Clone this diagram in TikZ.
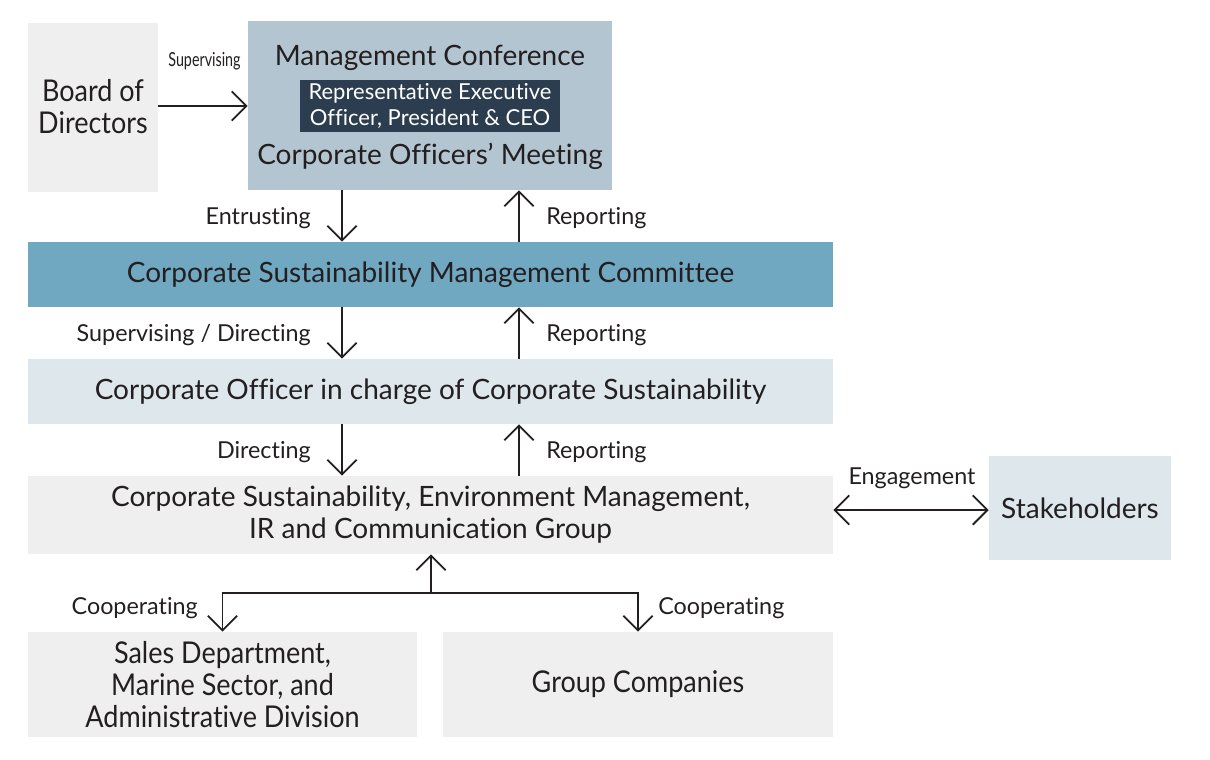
\documentclass[tikz,border=0pt]{standalone}
\usepackage{fontspec}
\setmainfont{Lato}[Ligatures=NoCommon]
\newfontfamily\condfont{Lato}[FakeStretch=0.9,Ligatures=NoCommon]
\newfontfamily\narrowfont{Lato}[FakeStretch=0.74,Ligatures=NoCommon]
\usetikzlibrary{arrows.meta}
\definecolor{txt}{HTML}{231F20}
\definecolor{grayb}{HTML}{EEEFEE}
\definecolor{mcblue}{HTML}{B3C5D0}
\definecolor{navy}{HTML}{2B3D4F}
\definecolor{teal}{HTML}{6FA8C0}
\definecolor{pale}{HTML}{DDE7EC}
\tikzset{
  box/.style={inner sep=0pt, align=center, text=txt, font=\fontsize{21}{24}\selectfont},
  lbl/.style={inner sep=0pt, text=txt, font=\fontsize{17.5}{20}\selectfont},
  arr/.style={draw=txt, line width=1.4pt, -{Straight Barb[length=11pt,width=22pt,line width=1.4pt]}},
  arrb/.style={draw=txt, line width=1.4pt, {Straight Barb[length=11pt,width=22pt,line width=1.4pt]}-{Straight Barb[length=11pt,width=22pt,line width=1.4pt]}}
}
\begin{document}
\begin{tikzpicture}[x=0.75pt,y=-0.75pt]
\useasboundingbox (0,0) rectangle (1210,760);
% boxes
\node[box, fill=grayb, minimum width=130*0.75pt, minimum height=169*0.75pt, font=\condfont\fontsize{22.5}{24}\selectfont] (board) at (93,107) {Board of\\Directors};
\node[box, fill=mcblue, minimum width=364*0.75pt, minimum height=169*0.75pt] (mc) at (430,105.5) {};
\node[box] (mctitle) at (430,58) {Management Conference};
\node[box, fill=navy, text=white, minimum width=260*0.75pt, minimum height=52*0.75pt, font=\fontsize{16.5}{19}\selectfont] (ceo) at (430,106) {Representative Executive\\Officer, President \& CEO};
\node[box] (com) at (430,156) {Corporate Officers’ Meeting};
\node[box, fill=teal, minimum width=805*0.75pt, minimum height=65*0.75pt] (csmc) at (430.5,274.5) {Corporate Sustainability Management Committee};
\node[box, fill=pale, minimum width=805*0.75pt, minimum height=65*0.75pt] (officer) at (430.5,391.5) {Corporate Officer in charge of Corporate Sustainability};
\node[box, fill=grayb, minimum width=805*0.75pt, minimum height=78*0.75pt] (group) at (430.5,515) {Corporate Sustainability, Environment Management,\\IR and Communication Group};
\node[box, fill=pale, minimum width=182*0.75pt, minimum height=104*0.75pt] (stake) at (1080,508) {Stakeholders};
\node[box, fill=grayb, minimum width=389*0.75pt, minimum height=105*0.75pt, font=\condfont\fontsize{22.5}{24}\selectfont] (sales) at (222.5,684.5) {Sales Department,\\Marine Sector, and\\Administrative Division};
\node[box, fill=grayb, minimum width=390*0.75pt, minimum height=105*0.75pt, font=\condfont\fontsize{22.5}{24}\selectfont] (gc) at (638,684.5) {Group Companies};
% column coordinates
\coordinate (dn) at (342,0);
\coordinate (up) at (519,0);
\coordinate (eng) at (0,510);
\coordinate (j) at (431,593);
% arrows
\draw[arr] (board.east |- ceo) -- (mc.west |- ceo);
\draw[arr] (mc.south -| dn) -- (csmc.north -| dn);
\draw[arr] (csmc.north -| up) -- (mc.south -| up);
\draw[arr] (csmc.south -| dn) -- (officer.north -| dn);
\draw[arr] (officer.north -| up) -- (csmc.south -| up);
\draw[arr] (officer.south -| dn) -- (group.north -| dn);
\draw[arr] (group.north -| up) -- (officer.south -| up);
\draw[arrb] (group.east |- eng) -- (stake.west |- eng);
\draw[arr] (j) -- (group.south -| j);
\draw[arrb] (sales.north) -- (sales.north |- j) -- (gc.north |- j) -- (gc.north);
% labels
\node[lbl, font=\narrowfont\fontsize{14.5}{16}\selectfont] (lsup) at (204.5,61) {Supervising};
\node[lbl, anchor=east] (l1) at (311,218) {Entrusting};
\node[lbl, anchor=west] (r1) at (546,218) {Reporting};
\node[lbl, anchor=east] (l2) at (311,335) {Supervising / Directing};
\node[lbl, anchor=west] (r2) at (546,335) {Reporting};
\node[lbl, anchor=east] (l3) at (311,452) {Directing};
\node[lbl, anchor=west] (r3) at (546,452) {Reporting};
\node[lbl] (leng) at (912,478) {Engagement};
\node[lbl, anchor=east] (lc1) at (198,608) {Cooperating};
\node[lbl, anchor=west] (lc2) at (658,608) {Cooperating};
\end{tikzpicture}
\end{document}
